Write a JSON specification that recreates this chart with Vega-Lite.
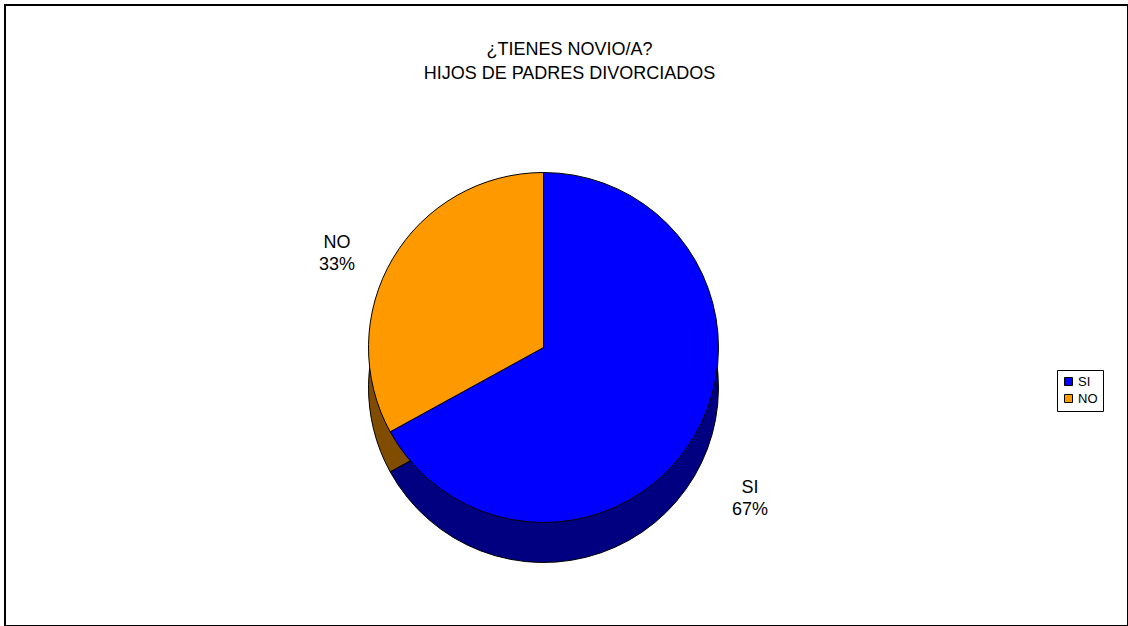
{
  "$schema": "https://vega.github.io/schema/vega-lite/v6.json",
  "width": 1123,
  "height": 621,
  "autosize": {"type": "none"},
  "padding": {"left": 5, "top": 5, "right": 0, "bottom": 0},
  "background": "white",
  "view": {"stroke": "black", "strokeWidth": 2, "fill": "white"},
  "config": {
    "font": "Liberation Sans"
  },
  "title": {
    "text": ["¿TIENES NOVIO/A?", "HIJOS DE PADRES DIVORCIADOS"],
    "anchor": "middle",
    "offset": -78,
    "fontSize": 18,
    "fontWeight": "normal",
    "lineHeight": 24,
    "color": "black",
    "font": "Liberation Sans",
    "dx": 3
  },
  "data": {
    "values": [
      {"respuesta": "SI", "porcentaje": 67, "etiqueta": "SI\n67%"},
      {"respuesta": "NO", "porcentaje": 33, "etiqueta": "NO\n33%"}
    ]
  },
  "encoding": {
    "theta": {"field": "porcentaje", "type": "quantitative", "stack": true},
    "order": {"field": "porcentaje", "type": "quantitative", "sort": "descending"}
  },
  "layer": [
    {
      "mark": {"type": "arc", "outerRadius": 175, "stroke": "black", "strokeWidth": 1, "xOffset": -23, "yOffset": 72},
      "encoding": {
        "color": {
          "field": "respuesta",
          "type": "nominal",
          "scale": {"domain": ["SI", "NO"], "range": ["#000080", "#804C00"]},
          "legend": null
        }
      }
    },
    {
      "mark": {"type": "arc", "outerRadius": 175, "stroke": "black", "strokeWidth": 1, "xOffset": -23, "yOffset": 32},
      "encoding": {
        "color": {
          "field": "respuesta",
          "type": "nominal",
          "scale": {"domain": ["SI", "NO"], "range": ["#0000FF", "#FF9900"]},
          "legend": {
            "title": null,
            "orient": "none",
            "legendX": 1052,
            "legendY": 365,
            "symbolType": "square",
            "symbolSize": 64,
            "symbolStrokeColor": "black",
            "symbolStrokeWidth": 1,
            "labelFontSize": 13,
            "labelColor": "black",
            "labelFont": "Liberation Sans",
            "padding": 5,
            "rowPadding": 3,
            "labelOffset": 3,
            "strokeColor": "black",
            "fillColor": "white"
          }
        }
      }
    },
    {
      "mark": {"type": "text", "radius": 240, "fontSize": 18, "lineBreak": "\n", "lineHeight": 22, "color": "black", "font": "Liberation Sans", "xOffset": -23, "yOffset": 50},
      "encoding": {
        "text": {"field": "etiqueta", "type": "nominal"}
      }
    }
  ],
  "resolve": {"scale": {"color": "independent"}}
}
